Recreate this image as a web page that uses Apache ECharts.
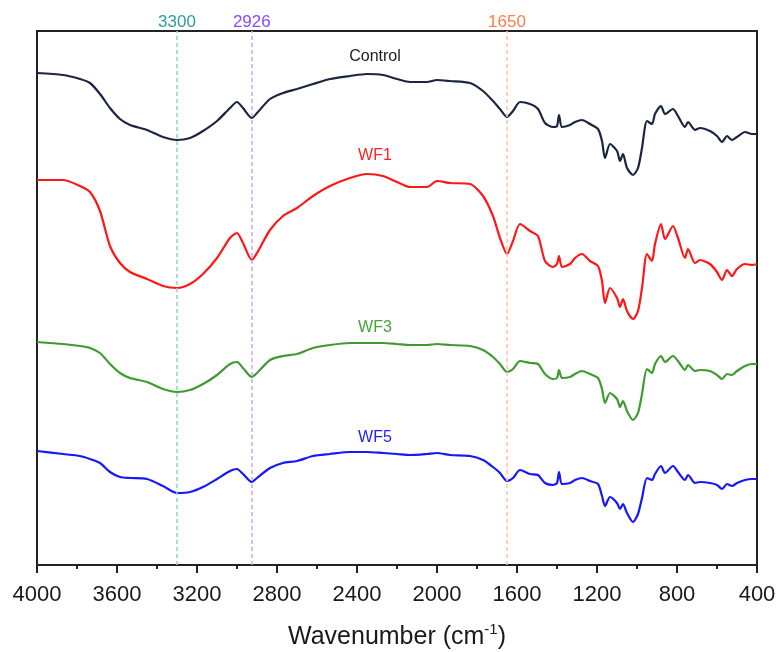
<!DOCTYPE html>
<html>
<head>
<meta charset="utf-8">
<script src="https://cdn.jsdelivr.net/npm/echarts@6/dist/echarts.min.js"></script>
<style>html,body{margin:0;padding:0;background:#fff}#c{width:777px;height:652px}</style>
</head>
<body>
<div id="c"></div>
<script>
// Wavenumbers (cm-1) sampled along the spectra
const wavenumbers = [4000, 3870, 3785, 3735, 3685, 3635, 3585, 3535, 3450, 3370, 3300, 3235, 3170, 3100, 3035, 3000, 2970, 2926, 2900, 2835, 2770, 2700, 2620, 2535, 2435, 2350, 2270, 2200, 2135, 2050, 2000, 1935, 1835, 1770, 1720, 1685, 1650, 1620, 1585, 1535, 1495, 1460, 1420, 1400, 1390, 1375, 1335, 1310, 1275, 1235, 1195, 1175, 1160, 1135, 1100, 1085, 1070, 1050, 1020, 995, 975, 950, 925, 910, 880, 860, 820, 795, 760, 745, 710, 685, 635, 600, 575, 550, 525, 500, 460, 425, 400];

// Offset transmittance (a.u.)
const control = [492, 490, 486, 482, 471, 457, 446, 440, 435, 428, 425, 427, 434, 444, 457, 463, 457, 447, 452, 466, 472, 476, 481, 486, 489, 491, 490, 486, 483, 483, 485, 484, 482, 474, 464, 456, 448, 454, 463, 461, 456, 442, 438, 439, 450, 438, 440, 443, 445, 441, 436, 424, 407, 421, 414, 404, 411, 397, 390, 397, 417, 444, 441, 451, 459, 451, 456, 449, 438, 443, 435, 437, 434, 429, 423, 429, 425, 428, 433, 431, 431];
const wf1 = [385, 385, 379, 373, 354, 319, 302, 293, 286, 279, 277, 281, 291, 307, 327, 332, 322, 305, 312, 335, 349, 357, 369, 379, 387, 391, 389, 383, 378, 378, 384, 382, 381, 369, 349, 327, 311, 324, 341, 334, 329, 304, 298, 301, 309, 298, 301, 307, 311, 304, 299, 284, 262, 277, 267, 258, 266, 254, 246, 254, 277, 311, 304, 321, 341, 326, 339, 327, 307, 316, 302, 305, 301, 293, 285, 295, 289, 296, 301, 300, 301];
const wf3 = [223, 221, 219, 217, 212, 201, 192, 187, 183, 176, 173, 175, 181, 190, 201, 203, 197, 188, 192, 205, 209, 211, 217, 220, 222, 222, 222, 221, 220, 220, 221, 220, 219, 215, 208, 201, 193, 196, 204, 202, 201, 191, 186, 187, 195, 187, 188, 191, 194, 191, 187, 176, 162, 172, 166, 158, 164, 154, 145, 152, 171, 196, 192, 201, 209, 203, 209, 204, 195, 200, 194, 195, 194, 190, 186, 191, 190, 194, 199, 201, 201];
const wf5 = [114, 111, 109, 106, 102, 93, 88, 87, 86, 79, 72, 73, 78, 86, 94, 96, 91, 83, 87, 97, 102, 104, 109, 111, 113, 113, 112, 111, 110, 111, 112, 110, 109, 105, 98, 92, 84, 87, 95, 91, 90, 82, 80, 82, 93, 81, 82, 85, 87, 84, 81, 69, 59, 68, 62, 56, 61, 52, 43, 51, 67, 87, 85, 91, 99, 92, 99, 93, 85, 90, 82, 83, 82, 80, 76, 81, 79, 82, 85, 86, 86];

const seriesNames = ['Control', 'WF1', 'WF3', 'WF5'];
const seriesValues = [control, wf1, wf3, wf5];
const lineColors = ['#1c2540', '#ff1616', '#3f9b30', '#1616ff'];
const labelColors = ['#1a1a1a', '#ff2222', '#4aa13c', '#2222ff'];
const labelAnchors = [[2310, 508], [2310, 409], [2310, 237], [2310, 127]];

const refLines = [3300, 2926, 1650];
const refLineColors = ['#8fd4cf', '#c9a6ff', '#ffc2a4'];
const refLabelColors = ['#2e9f97', '#8c48ff', '#ff7d48'];

const xTicks = { min: 400, max: 4000, interval: 400 };

const FONT = 'Liberation Sans, Arial, sans-serif';
const chart = echarts.init(document.getElementById('c'), null, { renderer: 'canvas' });

const series = seriesNames.map((name, i) => ({
  name: name,
  type: 'line',
  data: wavenumbers.map((w, j) => [w, seriesValues[i][j]]),
  showSymbol: false,
  smooth: 0.25,
  lineStyle: { color: lineColors[i], width: 2.2 },
  itemStyle: { color: lineColors[i] },
  z: 3,
  markPoint: {
    symbol: 'circle',
    symbolSize: 0,
    silent: true,
    data: [{ coord: labelAnchors[i], name: name }],
    label: {
      show: true, position: 'inside', formatter: name,
      color: labelColors[i], fontSize: 16, fontFamily: FONT
    }
  }
}));

series.push({
  name: 'refs',
  type: 'line',
  data: [],
  z: 1,
  markLine: {
    silent: true,
    symbol: ['none', 'none'],
    data: refLines.map((v, i) => ({
      xAxis: v,
      lineStyle: { color: refLineColors[i], type: [4, 3], width: 1.5 },
      label: { show: true, position: 'end', distance: 0, formatter: String(v), color: refLabelColors[i], fontSize: 17, fontFamily: FONT }
    }))
  }
});

chart.setOption({
  animation: false,
  backgroundColor: '#fff',
  grid: { left: 37, right: 20, top: 31, height: 534, containLabel: false, outerBoundsMode: 'none', show: true, borderColor: '#222', borderWidth: 2, backgroundColor: 'transparent' },
  xAxis: {
    type: 'value',
    inverse: true,
    min: xTicks.min, max: xTicks.max, interval: xTicks.interval,
    name: 'Wavenumber (cm{sup|-1})',
    nameLocation: 'middle',
    nameGap: 57,
    nameTextStyle: {
      fontSize: 25, color: '#1a1a1a', fontFamily: FONT, lineHeight: 30,
      rich: { sup: { fontSize: 15, lineHeight: 18, verticalAlign: 'top', color: '#1a1a1a', fontFamily: FONT } }
    },
    axisLine: { show: true, lineStyle: { color: '#222', width: 2 } },
    axisTick: { show: true, length: 8, lineStyle: { color: '#222', width: 2 } },
    minorTick: { show: true, splitNumber: 2, length: 4, lineStyle: { color: '#222', width: 2 } },
    axisLabel: { fontSize: 22, color: '#1a1a1a', margin: 19, fontFamily: FONT, formatter: (v) => String(v) },
    splitLine: { show: false },
    minorSplitLine: { show: false }
  },
  yAxis: {
    type: 'value', min: 0, max: 534, show: false,
    splitLine: { show: false }
  },
  series: series
});
</script>
</body>
</html>
